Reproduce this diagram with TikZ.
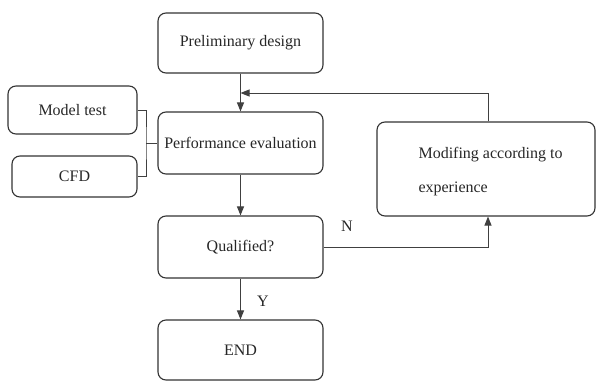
\documentclass[tikz,border=0pt]{standalone}
\usepackage{fontspec}
\setmainfont{Liberation Serif}
\usetikzlibrary{arrows.meta}
\begin{document}
\begin{tikzpicture}[x=1pt,y=-1pt,
  box/.style={draw=black!80,line width=1.1pt,rounded corners=8pt,inner sep=0pt},
  conn/.style={draw=black!75,line width=1pt},
  arr/.style={conn,-{Triangle[length=9pt,width=7pt]}},
  lbl/.style={font=\fontsize{16}{19}\selectfont,text=black!85}]
\useasboundingbox (0,0) rectangle (596,380);
\node[box,minimum width=165pt,minimum height=60pt,lbl] (pd) at (240.5,43) {Preliminary design};
\node[box,minimum width=165pt,minimum height=62pt,lbl] (pe) at (240.5,143) {Performance evaluation};
\node[box,minimum width=165pt,minimum height=62pt,lbl] (q) at (240.5,247) {Qualified?};
\node[box,minimum width=165pt,minimum height=60pt,lbl] (end) at (240.5,350) {END};
\node[box,minimum width=129pt,minimum height=48pt,lbl] (mt) at (72.5,110) {Model test};
\node[box,minimum width=125pt,minimum height=41pt,lbl] (cfd) at (74.5,176.5) {CFD};
\node[box,minimum width=218pt,minimum height=94pt] (mod) at (486,169) {};
\node[lbl,anchor=west,align=left] (modt) at (415,172) {Modifing according to\\[15pt]experience};
\coordinate (brk) at (146,143);
\draw[conn] (mt.east) -| (brk) |- (cfd.east);
\draw[conn] (brk) -- (pe.west);
\draw[arr] (pd.south) -- (pe.north);
\coordinate (fbtop) at (488,93);
\coordinate (fbend) at (240.5,93);
\draw[arr] (mod.north -| fbtop) -- (fbtop) -- (fbend);
\draw[arr] (pe.south) -- (q.north);
\coordinate (nb) at (488,253);
\draw[arr] (q.east) -- (q.east -| nb) -- (mod.south -| nb);
\node[lbl] (nl) at (347,226) {N};
\draw[arr] (q.south) -- (end.north);
\node[lbl] (yl) at (263,301) {Y};
\end{tikzpicture}
\end{document}
